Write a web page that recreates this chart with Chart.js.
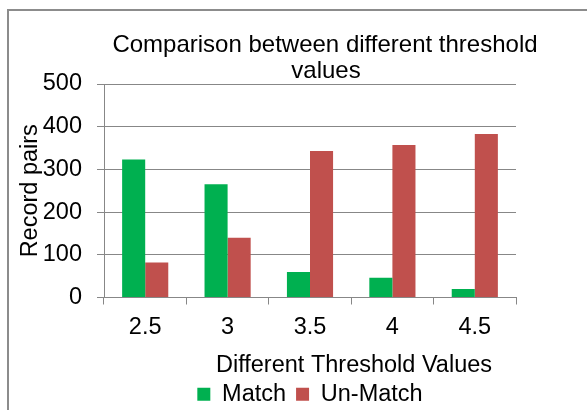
<!DOCTYPE html>
<html>
<head>
<meta charset="utf-8">
<script src="https://cdn.jsdelivr.net/npm/chart.js@4.4.1/dist/chart.umd.min.js"></script>
<style>
    html, body { margin: 0; padding: 0; background: #fff; overflow: hidden; }
    #wrap { position: relative; width: 587px; height: 410px; }
    #frame { position: absolute; left: 7px; top: 9px; width: 700px; height: 500px; border: 2px solid #8c8c8c; }
    #c { position: absolute; left: 0; top: 0; }
</style>
</head>
<body>
<div id="wrap">
    <div id="frame"></div>
    <canvas id="c" width="587" height="410"></canvas>
</div>
<script>
const thresholds = ['2.5', '3', '3.5', '4', '4.5'];
const matchValues = [323, 265, 60, 46, 20];
const unMatchValues = [82, 140, 343, 357, 383];
const yTicks = [0, 100, 200, 300, 400, 500];

const titleLines = ['Comparison between different threshold', 'values'];
const xTitle = 'Different Threshold Values';
const yTitle = 'Record pairs';

const FONT = '"Liberation Sans", Arial, sans-serif';
const gridColor = '#878787';

// title and x-axis title are drawn by hand, Excel puts them off-centre
const extraTextPlugin = {
    id: 'extraText',
    afterDraw(chart) {
        const ctx = chart.ctx;
        ctx.save();
        ctx.fillStyle = '#000';
        ctx.textAlign = 'center';
        ctx.textBaseline = 'alphabetic';
        ctx.font = '24px ' + FONT;
        ctx.fillText(titleLines[0], 325, 52);
        ctx.fillText(titleLines[1], 326, 78);
        ctx.font = '23.5px ' + FONT;
        ctx.fillText(xTitle, 354, 372);
        ctx.restore();
    }
};

const ctx = document.getElementById('c').getContext('2d');

new Chart(ctx, {
    type: 'bar',
    data: {
        labels: thresholds,
        datasets: [
            {
                label: 'Match',
                data: matchValues,
                backgroundColor: '#00B050',
                categoryPercentage: 0.56,
                barPercentage: 1,
            },
            {
                label: 'Un-Match',
                data: unMatchValues,
                backgroundColor: '#C0504D',
                categoryPercentage: 0.56,
                barPercentage: 1,
            }
        ]
    },
    options: {
        responsive: false,
        animation: false,
        layout: {
            // negative bottom pushes the legend row down a bit
            padding: { left: 0, right: 71, top: 84, bottom: -6 }
        },
        plugins: {
            title: { display: false },
            tooltip: { enabled: false },
            legend: {
                display: true,
                position: 'bottom',
                fullSize: false,
                labels: {
                    boxWidth: 13,
                    boxHeight: 13,
                    padding: 10,
                    color: '#000',
                    font: { family: FONT, size: 23.5 }
                }
            }
        },
        scales: {
            x: {
                type: 'category',
                afterFit(scale) { scale.height = 75; },
                grid: {
                    display: true,
                    offset: true,
                    drawOnChartArea: false,
                    drawTicks: true,
                    tickLength: 7,
                    color: gridColor,
                },
                border: { display: true, color: gridColor, width: 1 },
                ticks: {
                    color: '#000',
                    padding: 9,
                    font: { family: FONT, size: 23.5 }
                }
            },
            y: {
                min: 0,
                max: 500,
                afterFit(scale) { scale.width = 104; },
                afterBuildTicks(scale) { scale.ticks = yTicks.map(v => ({ value: v })); },
                grid: {
                    color: gridColor,
                    lineWidth: 1,
                    drawTicks: true,
                    tickLength: 7,
                },
                border: { display: true, color: gridColor, width: 1 },
                ticks: {
                    color: '#000',
                    padding: 15,
                    font: { family: FONT, size: 23.5 }
                },
                title: {
                    display: true,
                    text: yTitle,
                    color: '#000',
                    padding: { top: 16, bottom: 0 },
                    font: { family: FONT, size: 23.5 }
                }
            }
        }
    },
    plugins: [extraTextPlugin]
});
</script>
</body>
</html>
